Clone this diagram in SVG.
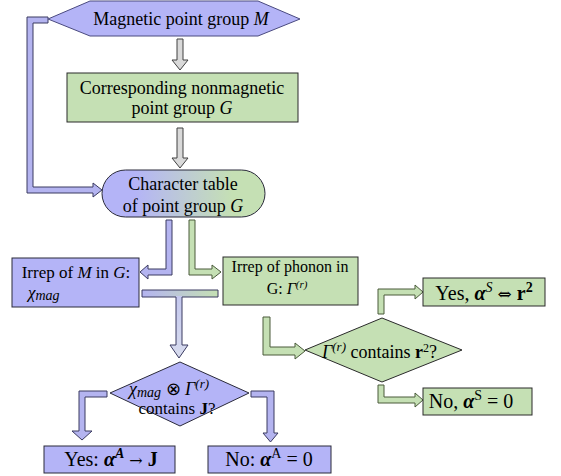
<svg xmlns="http://www.w3.org/2000/svg" width="561" height="476" viewBox="0 0 561 476" font-family="'Liberation Serif', serif" font-size="17">
<style>
  text { fill: #000; }
  .c { text-anchor: middle; }
  .i { font-style: italic; }
  .b { font-weight: bold; }
  .bi { font-weight: bold; font-style: italic; }
  .sym { font-family: 'DejaVu Serif', serif; }
  .blue { fill: #b4b4f7; stroke: #2a2a3a; stroke-width: 1; }
  .green { fill: #c5e0b4; stroke: #2a2a2a; stroke-width: 1; }
  .ablue { fill: #b4b4f0; stroke: #3a3a60; stroke-width: 1; }
  .agreen { fill: #c5e0b4; stroke: #4a5a3a; stroke-width: 1; }
  .agray { fill: #d9d9d9; stroke: #404040; stroke-width: 1; }
</style>
<defs>
  <linearGradient id="gStad" x1="0" y1="0" x2="1" y2="0">
    <stop offset="0.2" stop-color="#b4b4f7"/>
    <stop offset="0.8" stop-color="#c5e0b4"/>
  </linearGradient>
  <linearGradient id="gBar" x1="142" y1="0" x2="218" y2="0" gradientUnits="userSpaceOnUse">
    <stop offset="0" stop-color="#b4b4f0"/>
    <stop offset="1" stop-color="#c5e0b4"/>
  </linearGradient>
  <linearGradient id="gStem" x1="0" y1="297" x2="0" y2="358" gradientUnits="userSpaceOnUse">
    <stop offset="0" stop-color="#c4c8ee"/>
    <stop offset="1" stop-color="#d8dcee"/>
  </linearGradient>
</defs>

<g id="connectors">
  <path class="ablue" d="M48,17 L27,17 L27,193 L93,193 L93,197 L102,190 L93,183 L93,187 L33,187 L33,23 L48,23 Z"/>
  <path class="agray" d="M177,39 L183,39 L183,60 L188,60 L180,70 L172,60 L177,60 Z"/>
  <path class="agray" d="M177,128 L183,128 L183,158 L188,158 L180,168 L172,158 L177,158 Z"/>
  <path class="ablue" d="M166,220 L172,220 L172,275 L148,275 L148,279 L140,272 L148,265 L148,269 L166,269 Z"/>
  <path class="agreen" d="M189,220 L195,220 L195,269 L212,269 L212,265 L221,272 L212,279 L212,275 L189,275 Z"/>
  <rect x="142" y="290" width="76" height="7" fill="url(#gBar)"/>
  <path d="M176,296 L182,296 L182,345 L188,345 L179,358 L170,345 L176,345 Z" fill="url(#gStem)"/>
  <path d="M142,290 L218,290 L218,297 L182,297 L182,345 L188,345 L179,358 L170,345 L176,345 L176,297 L142,297 Z" fill="none" stroke="#3a3a60" stroke-width="1"/>
  <path class="ablue" d="M107,391 L79,391 L79,431 L72,431 L82,440 L92,431 L85,431 L85,397 L107,397 Z"/>
  <path class="ablue" d="M251,391 L274,391 L274,433 L278,433 L270.5,442 L263,433 L267,433 L267,397 L251,397 Z"/>
  <path class="agreen" d="M263,317 L270,317 L270,347 L295,347 L295,343 L305,351 L295,359 L295,355 L263,355 Z"/>
  <path class="agreen" d="M378,314 L384,314 L384,295 L415,295 L415,299 L423,292 L415,285 L415,289 L378,289 Z"/>
  <path class="agreen" d="M378,385 L384,385 L384,397 L415,397 L415,393 L423,400 L415,407 L415,403 L378,403 Z"/>
</g>

<g id="magnetic">
  <polygon class="blue" points="48,19 90,1 258,1 300,19 258,36 90,36" style="stroke:#4a4a80"/>
  <text x="181" y="25" class="c" font-size="18">Magnetic point group <tspan class="i">M</tspan></text>
</g>

<g id="nonmagnetic">
  <rect class="green" x="67" y="73" width="231" height="49"/>
  <text x="182" y="94" class="c" font-size="18">Corresponding nonmagnetic</text>
  <text x="182" y="114" class="c" font-size="18">point group <tspan class="i">G</tspan></text>
</g>

<g id="chartable">
  <rect x="102" y="170" width="163" height="47" rx="23.5" ry="23.5" fill="url(#gStad)" stroke="#2a2a3a"/>
  <text x="183" y="190" class="c" font-size="18">Character table</text>
  <text x="183" y="212" class="c" font-size="18">of point group <tspan class="i">G</tspan></text>
</g>

<g id="irrepM">
  <rect class="blue" x="12" y="258" width="127" height="49"/>
  <text x="76" y="278" class="c">Irrep of <tspan class="i">M</tspan> in <tspan class="i">G</tspan>:</text>
  <text x="28" y="298" class="i">χ<tspan font-size="14" dy="2">mag</tspan></text>
</g>

<g id="irrepPhonon">
  <rect class="green" x="223" y="257" width="135" height="48"/>
  <text x="290" y="272" class="c" font-size="16">Irrep of phonon in</text>
  <text x="287" y="294" class="c" font-size="16">G:  <tspan class="i">Γ</tspan><tspan font-size="11" dy="-6" class="i">(r)</tspan></text>
</g>

<g id="decisionR2">
  <polygon class="green" points="305,350 382,318 462,350 382,382"/>
  <text x="322" y="358" font-size="18"><tspan class="i">Γ</tspan><tspan font-size="13" dy="-7" class="i">(r)</tspan><tspan dy="7"> contains </tspan><tspan class="b">r</tspan><tspan font-size="12" dy="-6">2</tspan><tspan dy="6">?</tspan></text>
</g>

<g id="yesS">
  <rect class="green" x="423" y="278" width="122" height="28"/>
  <text x="484" y="300" class="c" font-size="20">Yes, <tspan class="bi">α</tspan><tspan font-size="14" dy="-8" class="i">S</tspan><tspan dy="8"> </tspan><tspan class="sym" font-size="17">⇔</tspan><tspan> </tspan><tspan class="b">r</tspan><tspan class="b" font-size="14" dy="-8">2</tspan></text>
</g>

<g id="noS">
  <rect class="green" x="423" y="388" width="109" height="27"/>
  <text x="471" y="408" class="c" font-size="20">No, <tspan class="bi">α</tspan><tspan font-size="14" dy="-8">S</tspan><tspan dy="8"> = 0</tspan></text>
</g>

<g id="decisionJ">
  <polygon class="blue" points="110,393 180,362 249,393 180,426"/>
  <text x="129" y="395" class="i" font-size="18">χ<tspan font-size="14" dy="2">mag</tspan><tspan style="font-style:normal" dy="-2"> ⊗ </tspan>Γ<tspan font-size="13" dy="-7">(r)</tspan></text>
  <text x="177" y="414" class="c">contains <tspan class="b">J</tspan>?</text>
</g>

<g id="yesA">
  <rect class="blue" x="44" y="446" width="131" height="27"/>
  <text x="111" y="466" class="c" font-size="20">Yes: <tspan class="bi">α</tspan><tspan class="bi" font-size="14" dy="-8">A</tspan><tspan dy="8"> </tspan><tspan class="sym" font-size="16">→</tspan><tspan> </tspan><tspan class="b">J</tspan></text>
</g>

<g id="noA">
  <rect class="blue" x="208" y="446" width="123" height="27"/>
  <text x="269" y="466" class="c" font-size="20">No:  <tspan class="bi">α</tspan><tspan font-size="14" dy="-8">A</tspan><tspan dy="8"> = 0</tspan></text>
</g>
</svg>
